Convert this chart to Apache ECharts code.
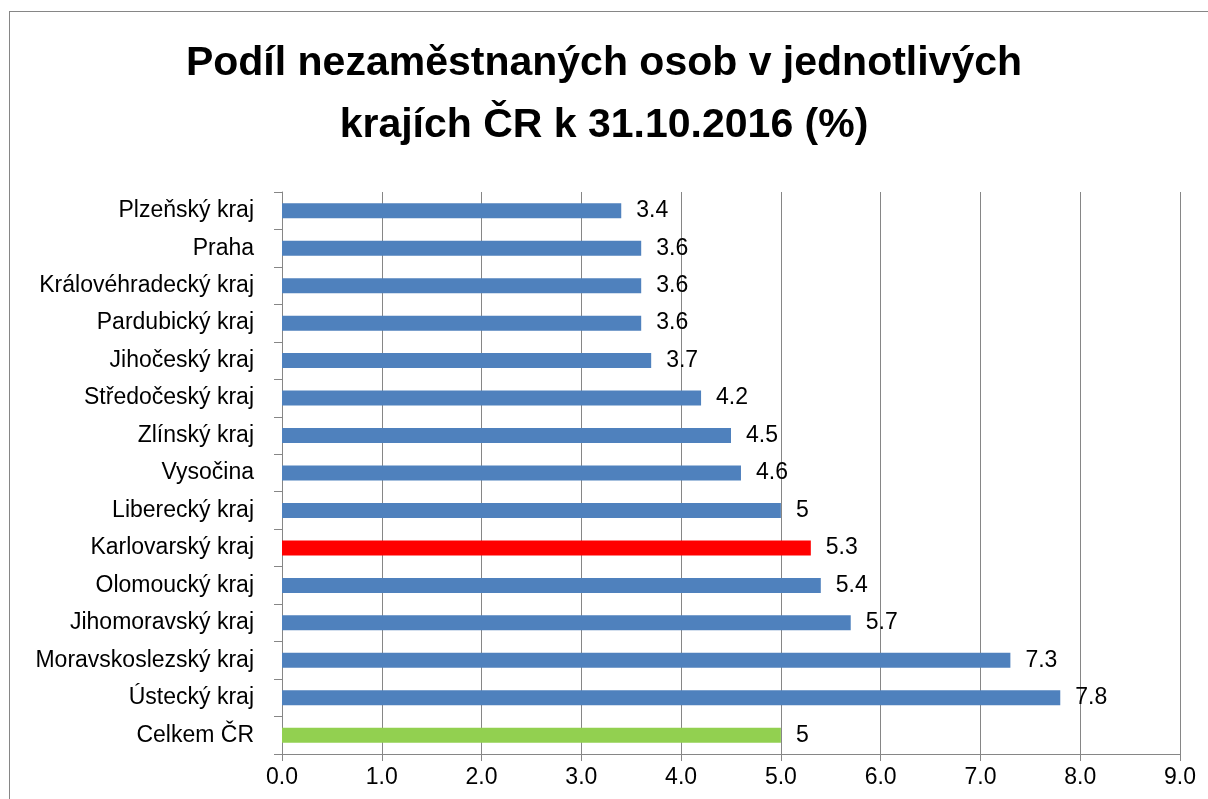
<!DOCTYPE html>
<html>
<head>
<meta charset="utf-8">
<script src="https://cdn.jsdelivr.net/npm/echarts@6/dist/echarts.min.js"></script>
<style>
	html, body { margin: 0; padding: 0; background: #fff; }
	#frame { position: absolute; left: 9px; top: 11px; width: 1300px; height: 900px; border: 1px solid #868686; }
	#chart { position: absolute; left: 0; top: 0; width: 1208px; height: 799px; }
</style>
</head>
<body>
<div id="frame"></div>
<div id="chart"></div>
<script>
var titleText = 'Podíl nezaměstnaných osob v jednotlivých\nkrajích ČR k 31.10.2016 (%)';
var regions = ['Plzeňský kraj', 'Praha', 'Královéhradecký kraj', 'Pardubický kraj', 'Jihočeský kraj',
	'Středočeský kraj', 'Zlínský kraj', 'Vysočina', 'Liberecký kraj', 'Karlovarský kraj',
	'Olomoucký kraj', 'Jihomoravský kraj', 'Moravskoslezský kraj', 'Ústecký kraj', 'Celkem ČR'];
var values = [3.4, 3.6, 3.6, 3.6, 3.7, 4.2, 4.5, 4.6, 5, 5.3, 5.4, 5.7, 7.3, 7.8, 5];
var barColors = ['#4f81bd', '#4f81bd', '#4f81bd', '#4f81bd', '#4f81bd', '#4f81bd', '#4f81bd', '#4f81bd',
	'#4f81bd', '#ff0000', '#4f81bd', '#4f81bd', '#4f81bd', '#4f81bd', '#92d050'];

var font = 'Liberation Sans';
var myChart = echarts.init(document.getElementById('chart'));

var barData = [];
for(var i = 0; i < values.length; i++) {
	barData.push({
		value: values[i],
		itemStyle: { color: barColors[i] }
	});
}

var option = {
	animation: false,
	title: {
		text: titleText,
		left: 'center',
		top: 28,
		textStyle: {
			fontFamily: font,
			fontSize: 41,
			fontWeight: 'bold',
			lineHeight: 62,
			color: '#000'
		}
	},
	grid: {
		left: 282,
		right: 28,
		top: 192,
		bottom: 45,
		containLabel: false
	},
	xAxis: {
		type: 'value',
		min: 0,
		max: 9,
		interval: 1,
		axisLine: { show: true, lineStyle: { color: '#868686', width: 1 } },
		axisTick: { show: true, length: 7, lineStyle: { color: '#868686' } },
		splitLine: { show: true, lineStyle: { color: '#868686', width: 1 } },
		axisLabel: {
			margin: 12,
			fontFamily: font,
			fontSize: 23,
			color: '#000',
			formatter: function(v) {
				return v.toFixed(1);
			}
		}
	},
	yAxis: {
		type: 'category',
		inverse: true,
		data: regions,
		axisLine: { show: true, lineStyle: { color: '#868686', width: 1 } },
		axisTick: { show: true, length: 8, lineStyle: { color: '#868686' } },
		axisLabel: {
			margin: 28,
			fontFamily: font,
			fontSize: 23,
			color: '#000'
		}
	},
	series: [{
		type: 'bar',
		data: barData,
		barWidth: 15,
		label: {
			show: true,
			position: 'right',
			distance: 15,
			fontFamily: font,
			fontSize: 23,
			color: '#000'
		}
	}]
};
myChart.setOption(option);
</script>
</body>
</html>
